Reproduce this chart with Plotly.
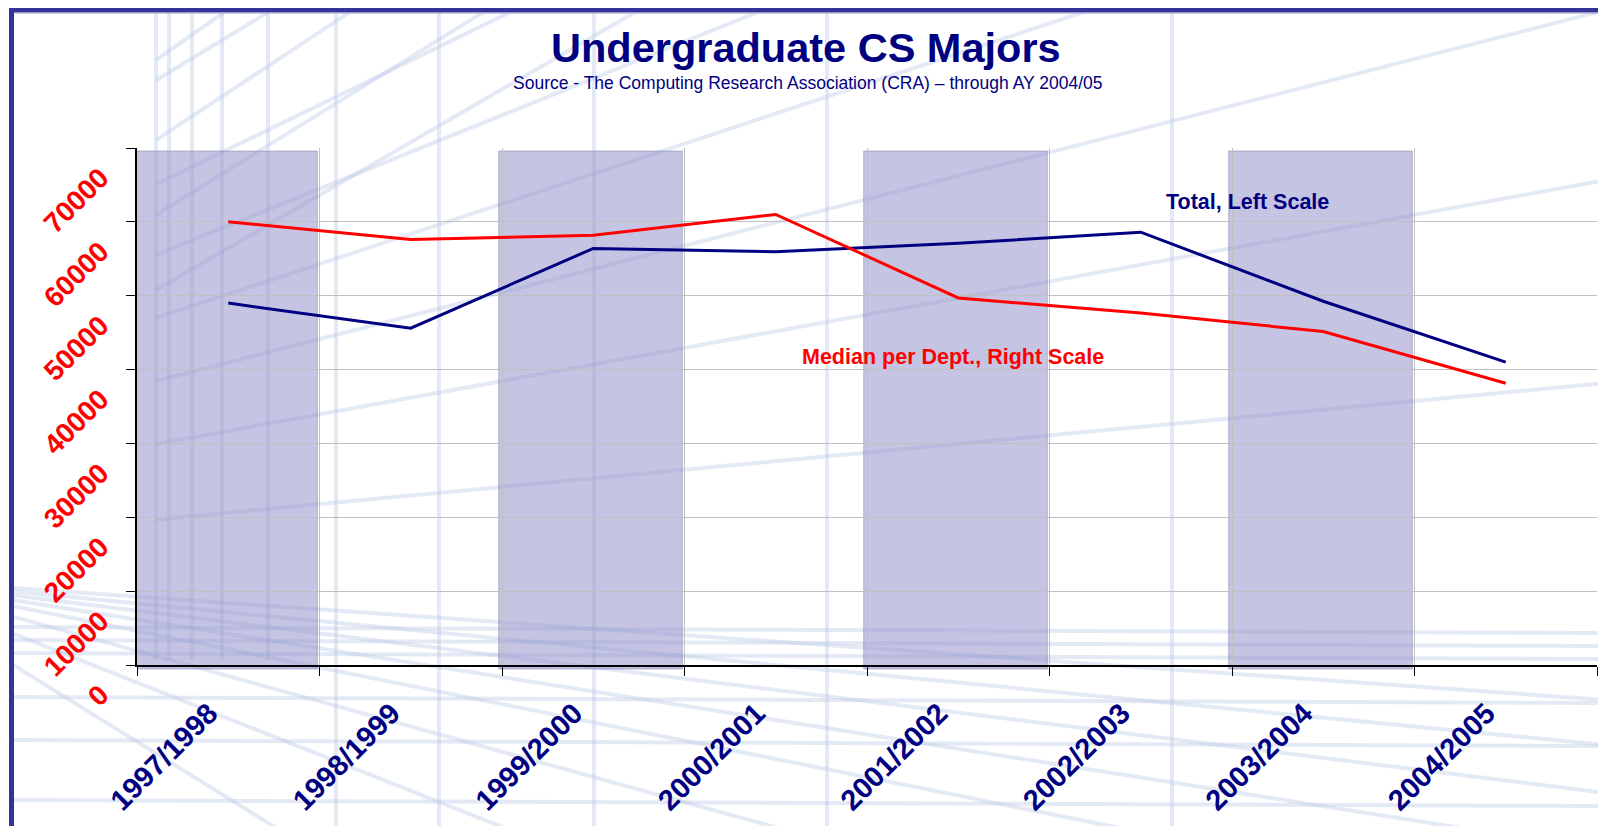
import plotly.graph_objects as go

# ---------------- data ----------------
years = ["1997/1998", "1998/1999", "1999/2000", "2000/2001",
         "2001/2002", "2002/2003", "2003/2004", "2004/2005"]
total_left = [49000, 45600, 56400, 55950, 57100, 58600, 49250, 41000]
median_right = [60000, 57600, 58200, 61000, 49700, 47650, 45150, 38150]
y_ticks = [0, 10000, 20000, 30000, 40000, 50000, 60000, 70000]
shaded_years = ["1997/1998", "1999/2000", "2001/2002", "2003/2004"]

# page geometry (the html body adds an 8px margin)
OFF = 8
PW, PH = 1606, 834
W, H = PW - 2 * OFF, PH - 2 * OFF
L, R, T, B = 137, 1597, 148, 665   # plot area in page pixels
NAVY = "#000080"
RED = "#ff0000"
FONT = "Arial, Liberation Sans, sans-serif"


def px(x):
    return (x - L) / (R - L)


def py(y):
    return (B - y) / (B - T)


fig = go.Figure()
fig.add_trace(go.Scatter(x=years, y=total_left, mode="lines",
                         line=dict(color=NAVY, width=3), name="Total, Left Scale"))
fig.add_trace(go.Scatter(x=years, y=median_right, mode="lines", yaxis="y2",
                         line=dict(color=RED, width=3), name="Median per Dept., Right Scale"))

shapes = []
# background perspective grid (decorative)
bg = dict(color="rgba(185,199,228,0.38)", width=4)
for xv in [156, 169, 192, 222, 268]:
    shapes.append(dict(type="line", xref="paper", yref="paper", x0=px(xv), x1=px(xv),
                       y0=py(0), y1=py(660), line=bg, layer="below"))
for xv in [336, 439, 594, 827, 1172]:
    shapes.append(dict(type="line", xref="paper", yref="paper", x0=px(xv), x1=px(xv),
                       y0=py(0), y1=py(834), line=bg, layer="below"))
# steep diagonals on the upper-left wall
for ys, slope in [(60, -0.7), (140, -0.66), (215, -0.62), (290, -0.58)]:
    xe = 156 + ys / (-slope)
    shapes.append(dict(type="line", xref="paper", yref="paper", x0=px(156), y0=py(ys),
                       x1=px(xe), y1=py(0), line=bg, layer="below"))
vpx, vpy = -700, 600
for yr in [-1100, -800, -520, -330, -160, 10, 180, 383]:
    x0 = 156
    y0 = vpy + (yr - vpy) * (x0 - vpx) / (PW - vpx)
    shapes.append(dict(type="line", xref="paper", yref="paper", x0=px(x0), y0=py(y0),
                       x1=px(PW), y1=py(yr), line=bg, layer="below"))
for yh in [627, 640, 653, 697, 740, 800]:
    shapes.append(dict(type="line", xref="paper", yref="paper", x0=px(14), y0=py(yh),
                       x1=px(PW), y1=py(yh + 6), line=bg, layer="below"))
fvx, fvy = -127, 578
for xe in [286, 520, 800, 1150, 1500]:
    ye = 834
    x0 = 14
    y0 = fvy + (ye - fvy) * (x0 - fvx) / (xe - fvx)
    shapes.append(dict(type="line", xref="paper", yref="paper", x0=px(x0), y0=py(y0),
                       x1=px(xe), y1=py(ye), line=bg, layer="below"))
for ye in [700, 745, 793]:
    x0 = 14
    y0 = fvy + (ye - fvy) * (x0 - fvx) / (PW - fvx)
    shapes.append(dict(type="line", xref="paper", yref="paper", x0=px(x0), y0=py(y0),
                       x1=px(PW), y1=py(ye), line=bg, layer="below"))

# shaded alternating year bands
for yv in shaded_years:
    i = years.index(yv)
    shapes.append(dict(type="rect", xref="x", yref="paper",
                       x0=i - 0.5 - 0.018, x1=i + 0.5 - 0.012,
                       y0=py(669), y1=py(151),
                       fillcolor="rgba(140,140,200,0.5)",
                       line=dict(color="rgba(110,110,160,0.45)", width=1),
                       layer="below"))

# slide frame
shapes.append(dict(type="rect", xref="paper", yref="paper", x0=px(9), x1=px(PW + 5),
                   y0=py(12), y1=py(7), fillcolor="#333399", line=dict(width=0)))
shapes.append(dict(type="rect", xref="paper", yref="paper", x0=px(14), x1=px(PW + 5),
                   y0=py(13.5), y1=py(12), fillcolor="#9999cc", line=dict(width=0)))
shapes.append(dict(type="rect", xref="paper", yref="paper", x0=px(9), x1=px(14),
                   y0=py(PH + 5), y1=py(7), fillcolor="#333399", line=dict(width=0)))

annotations = [
    dict(text="<b>Undergraduate CS Majors</b>", xref="paper", yref="paper",
         x=px(806), y=py(48), xanchor="center", yanchor="middle", showarrow=False,
         font=dict(family=FONT, size=41.5, color=NAVY)),
    dict(text="Source - The Computing Research Association (CRA) \u2013 through AY 2004/05",
         xref="paper", yref="paper", x=px(808), y=py(83), xanchor="center", yanchor="middle",
         showarrow=False, font=dict(family=FONT, size=17.5, color=NAVY)),
    dict(text="<b>Total, Left Scale</b>", xref="paper", yref="paper",
         x=px(1247), y=py(202), xanchor="center", yanchor="middle", showarrow=False,
         font=dict(family=FONT, size=21.5, color=NAVY)),
    dict(text="<b>Median per Dept., Right Scale</b>", xref="paper", yref="paper",
         x=px(953), y=py(357), xanchor="center", yanchor="middle", showarrow=False,
         font=dict(family=FONT, size=21.5, color=RED)),
]

fig.update_layout(
    width=W, height=H,
    margin=dict(l=L - OFF, r=(PW - OFF) - R, t=T - OFF, b=(PH - OFF) - B, autoexpand=False),
    paper_bgcolor="white", plot_bgcolor="rgba(0,0,0,0)",
    showlegend=False,
    shapes=shapes, annotations=annotations,
    xaxis=dict(type="category", categoryorder="array", categoryarray=years,
               range=[-0.5, len(years) - 0.5],
               showline=True, linecolor="black", linewidth=1.5,
               ticks="outside", ticklen=9, tickcolor="black", tickson="boundaries",
               showgrid=True, gridcolor="#c0c0c0", gridwidth=1,
               tickangle=-45, ticklabelstandoff=18, ticklabelshift=-19,
               tickfont=dict(family=FONT, size=29, color=NAVY, weight="bold"),
               zeroline=False),
    yaxis=dict(range=[0, 70000], tickvals=y_ticks, ticktext=[str(v) for v in y_ticks],
               showline=True, linecolor="black", linewidth=1.5,
               ticks="outside", ticklen=9, tickcolor="black",
               showgrid=True, gridcolor="#c0c0c0", gridwidth=1,
               tickangle=-45, ticklabelstandoff=20, ticklabelshift=26,
               tickfont=dict(family=FONT, size=28, color=RED, weight="bold"),
               zeroline=False),
    yaxis2=dict(range=[0, 70000], overlaying="y", visible=False),
)

fig.write_html("out.html")
